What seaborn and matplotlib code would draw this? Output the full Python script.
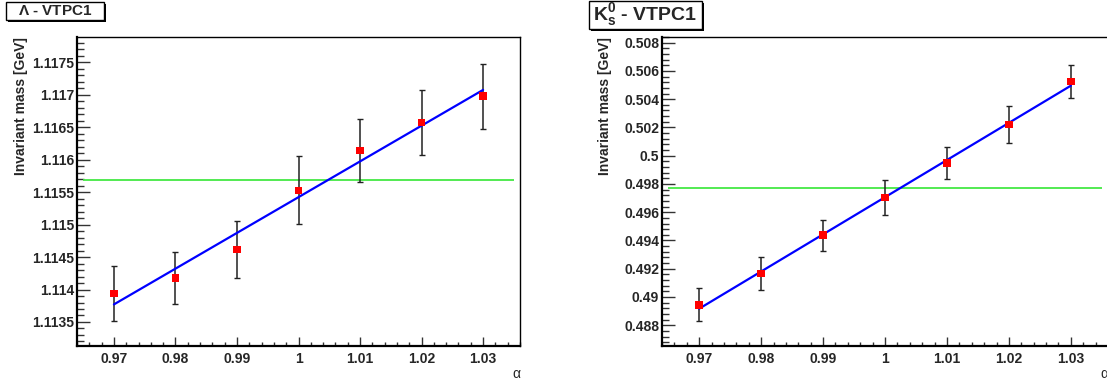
import matplotlib
matplotlib.use("Agg")
import matplotlib.pyplot as plt
import matplotlib.patches as mpatches
from matplotlib.ticker import MultipleLocator, FuncFormatter
import numpy as np
import pandas as pd
import seaborn as sns

# scale factor alpha (x axis), shared by both panels
alpha_values = [0.97, 0.98, 0.99, 1.00, 1.01, 1.02, 1.03]

# Lambda - VTPC1
lambda_mass = [1.11394, 1.11418, 1.11462, 1.11553, 1.11614, 1.11657, 1.11698]
lambda_err = [0.00042, 0.00040, 0.00044, 0.00052, 0.00049, 0.00050, 0.00050]
lambda_ref = 1.115683

# K0s - VTPC1
k0_mass = [0.48944, 0.49166, 0.49438, 0.49702, 0.49948, 0.50219, 0.50527]
k0_err = [0.00116, 0.00120, 0.00110, 0.00124, 0.00115, 0.00130, 0.00116]
k0_ref = 0.49772

W, H = 1107, 381

sns.set_style("ticks")
plt.rcParams["font.family"] = ["Liberation Sans", "DejaVu Sans"]
plt.rcParams["font.weight"] = "bold"
plt.rcParams["mathtext.fontset"] = "custom"
plt.rcParams["mathtext.rm"] = "Liberation Sans"
plt.rcParams["mathtext.bf"] = "Liberation Sans:bold"
plt.rcParams["mathtext.it"] = "Liberation Sans:italic"

fig = plt.figure(figsize=(W / 100, H / 100), dpi=100)


def px_box(x0, y0, x1, y1):
    # pixel box (top-left origin) -> figure fraction rect
    return [x0 / W, 1 - y1 / H, (x1 - x0) / W, (y1 - y0) / H]


def title_box(x0, y0, x1, y1, text, size):
    sx, sy, sw, sh = px_box(x0 + 2, y0 + 2, x1 + 2, y1 + 2)
    fig.patches.append(mpatches.Rectangle((sx, sy), sw, sh, transform=fig.transFigure,
                                          facecolor="black", edgecolor="black", lw=0))
    bx, by, bw, bh = px_box(x0, y0, x1, y1)
    fig.patches.append(mpatches.Rectangle((bx, by), bw, bh, transform=fig.transFigure,
                                          facecolor="white", edgecolor="black", lw=1))
    fig.text(bx + bw / 2, by + bh / 2, text, ha="center", va="center",
             fontsize=size, fontweight="bold")


def draw_panel(ax, mass, err, ref, ylim, ymajor, yminor, ylab_x):
    df = pd.DataFrame({"alpha": alpha_values, "mass": mass, "err": err})

    ax.hlines(ref, 0.965, 1.035, color="#44e844", lw=1.3, zorder=1)
    ax.errorbar(df["alpha"], df["mass"], yerr=df["err"], fmt="none",
                ecolor="#222222", elinewidth=1.1, capsize=2, capthick=1, zorder=2)
    sns.regplot(data=df, x="alpha", y="mass", ax=ax, scatter=False, ci=None,
                truncate=True, line_kws=dict(color="#0000ff", lw=1.6, zorder=3))
    sns.scatterplot(data=df, x="alpha", y="mass", ax=ax, marker="s", s=28,
                    color="#ff0000", edgecolor="none", zorder=4)

    ax.set_xlim(0.964, 1.036)
    ax.set_ylim(*ylim)

    ax.xaxis.set_major_locator(MultipleLocator(0.01))
    ax.xaxis.set_minor_locator(MultipleLocator(0.002))
    ax.yaxis.set_major_locator(MultipleLocator(ymajor))
    ax.yaxis.set_minor_locator(MultipleLocator(yminor))
    fmt = FuncFormatter(lambda v, p: f"{round(v, 6):g}")
    ax.xaxis.set_major_formatter(fmt)
    ax.yaxis.set_major_formatter(fmt)

    ax.tick_params(axis="y", which="major", direction="in", length=9.5, width=1,
                   color="#333333", pad=2, labelsize=10)
    ax.tick_params(axis="y", which="minor", direction="in", length=5, width=1,
                   color="#333333")
    ax.tick_params(axis="x", which="major", direction="in", length=6.5, width=1,
                   color="#333333", pad=4, labelsize=10)
    ax.tick_params(axis="x", which="minor", direction="in", length=3.2, width=1,
                   color="#333333")

    for side in ["top", "right"]:
        ax.spines[side].set_linewidth(1.0)
    for side in ["left", "bottom"]:
        ax.spines[side].set_linewidth(1.6)
    for sp in ax.spines.values():
        sp.set_color("black")
        sp.set_visible(True)

    ax.set_ylabel("Invariant mass [GeV]", loc="top", fontsize=10, fontweight="bold")
    ax.yaxis.set_label_coords(ylab_x, 1.0)
    ax.set_xlabel("α", loc="right", fontsize=10, fontweight="normal")
    ax.xaxis.set_label_coords(1.0, -0.068)


ax1 = fig.add_axes(px_box(77, 37, 520, 346))
draw_panel(ax1, lambda_mass, lambda_err, lambda_ref,
           (1.11313, 1.11789), 0.0005, 0.0001, -0.111)

ax2 = fig.add_axes(px_box(662, 37, 1108, 346))
draw_panel(ax2, k0_mass, k0_err, k0_ref,
           (0.48653, 0.50840), 0.002, 0.0004, -0.113)

title_box(6, 2, 104, 20, r"$\Lambda$ - VTPC1", 11)
title_box(589, 1, 702, 29, r"$\mathbf{K^{0}_{s}}$ - VTPC1", 14)

fig.savefig("out.png", dpi=100)
